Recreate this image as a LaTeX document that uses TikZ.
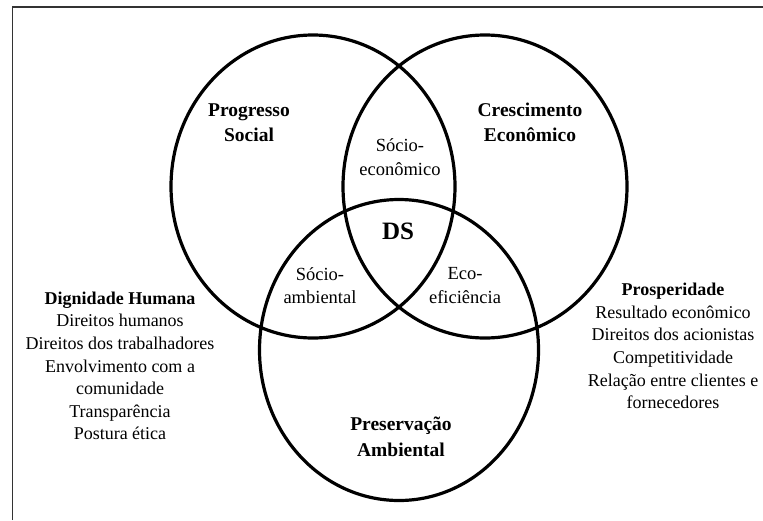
\documentclass[tikz,border=0pt]{standalone}
\usepackage{fontspec}
\setmainfont{Liberation Serif}
\tikzset{
  ring/.style={line width=3.2pt, black},
  frameline/.style={line width=1.4pt, black!80},
  title/.style={font=\fontsize{19.5}{25.5}\selectfont\bfseries, align=center, inner sep=0pt},
  inter/.style={font=\fontsize{18.5}{23.5}\selectfont, align=center, inner sep=0pt},
  side/.style={font=\fontsize{18}{22.6}\selectfont, align=center, inner sep=0pt},
  core/.style={font=\fontsize{25}{30}\selectfont\bfseries, inner sep=0pt}
}
\begin{document}
\begin{tikzpicture}[x=1pt,y=-1pt]
\useasboundingbox (0,0) rectangle (763,520);
\draw[frameline] (12.7,520) -- (12.7,7) -- (763,7);
% circles
\draw[ring] (313,186.5) ellipse [x radius=142pt, y radius=151.5pt];
\draw[ring] (485,186.5) ellipse [x radius=142pt, y radius=151.5pt];
\draw[ring] (399,350) ellipse [x radius=139.5pt, y radius=150.5pt];
% titles
\node[title] (soc) at (249,122.5) {Progresso\\Social};
\node[title] (eco) at (530,122.5) {Crescimento\\Econômico};
\node[title] (amb) at (401,437) {Preservação\\Ambiental};
% intersections
\node[inter] (se) at (400,157) {Sócio-\\econômico};
\node[inter] (sa) at (320,285.5) {Sócio-\\ambiental};
\node[inter] (ee) at (465,285.5) {Eco-\\eficiência};
\node[core] (ds) at (398,231) {DS};
% side lists
\node[side] (dh) at (120,366) {\textbf{Dignidade Humana}\\Direitos humanos\\Direitos dos trabalhadores\\Envolvimento com a\\comunidade\\Transparência\\Postura ética};
\node[side] (pr) at (673,346) {\textbf{Prosperidade}\\Resultado econômico\\Direitos dos acionistas\\Competitividade\\Relação entre clientes e\\fornecedores};
\end{tikzpicture}
\end{document}
